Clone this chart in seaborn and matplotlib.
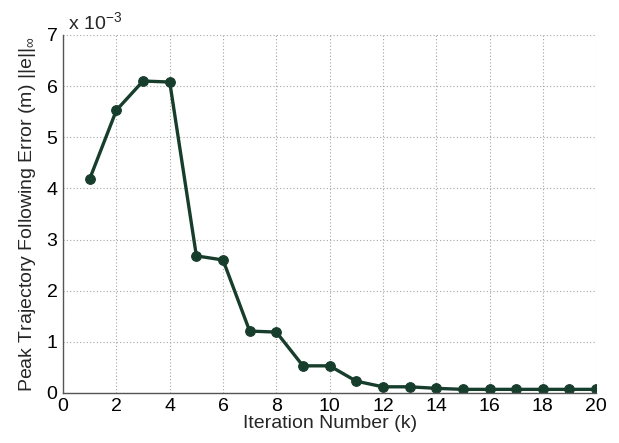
import numpy as np
import pandas as pd
import matplotlib
matplotlib.use('Agg')
import matplotlib.pyplot as plt
from matplotlib.ticker import FuncFormatter
import seaborn as sns

# peak trajectory following error per iteration (m)
iterations = list(range(1, 21))
peak_error = [4.19e-3, 5.53e-3, 6.10e-3, 6.08e-3, 2.68e-3, 2.60e-3, 1.21e-3, 1.19e-3,
              0.53e-3, 0.53e-3, 0.23e-3, 0.12e-3, 0.12e-3, 0.09e-3, 0.07e-3, 0.07e-3,
              0.07e-3, 0.07e-3, 0.07e-3, 0.07e-3]
x_ticks = list(range(0, 21, 2))
y_ticks = [i * 1e-3 for i in range(0, 8)]

df = pd.DataFrame({'k': iterations, 'err': peak_error})

sns.set_style('white')
plt.rcParams['font.family'] = ['Liberation Sans', 'DejaVu Sans']
plt.rcParams['mathtext.fontset'] = 'custom'
plt.rcParams['mathtext.rm'] = 'Liberation Sans'
plt.rcParams['mathtext.it'] = 'Liberation Sans'

fig = plt.figure(figsize=(6.19, 4.43), dpi=100)
ax = fig.add_axes([0.102, 0.113, 0.861, 0.808])

line_col = '#173d2c'
sns.lineplot(data=df, x='k', y='err', ax=ax, color=line_col, marker='o',
             markersize=7, linewidth=2.4, markeredgecolor=line_col)

ax.set_xlim(0, 20)
ax.set_ylim(0, 7e-3)
ax.set_xticks(x_ticks)
ax.set_yticks(y_ticks)
ax.yaxis.set_major_formatter(FuncFormatter(lambda v, p: '%d' % round(v * 1e3)))
ax.grid(True, linestyle=(0, (1, 2)), color='#a5a5a5', linewidth=0.8)

for s in ['top', 'right']:
  ax.spines[s].set_visible(False)
for s in ['left', 'bottom']:
  ax.spines[s].set_color('#555555')
  ax.spines[s].set_linewidth(1.0)

ax.tick_params(direction='in', length=4, labelsize=14, colors='#555555', labelcolor='black', pad=4)

ax.set_xlabel('Iteration Number (k)', fontsize=14, labelpad=0)
ax.set_ylabel(r'Peak Trajectory Following Error (m) $||\mathrm{e}||_{\infty}$', fontsize=14, labelpad=6)
ax.text(0.0, 1.005, r' x 10$^{-3}$', transform=ax.transAxes, fontsize=14, ha='left', va='bottom')

plt.savefig('out.png', dpi=100)
